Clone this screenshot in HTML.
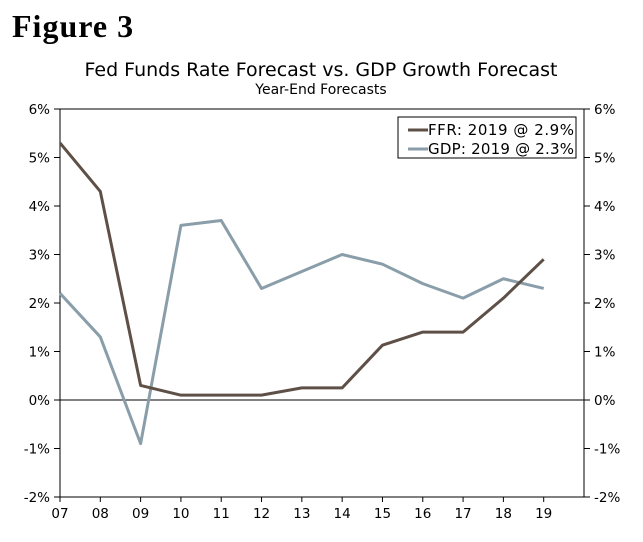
<!DOCTYPE html>
<html><head><meta charset="utf-8"><style>
body{margin:0;background:#fff;width:643px;height:537px;overflow:hidden}
svg text{font-family:"DejaVu Sans","Liberation Sans",sans-serif}
</style></head><body>
<svg id="c" width="643" height="537">
<text x="12" y="37" font-weight="bold" font-size="32" letter-spacing="1" style="font-family:'Liberation Serif',serif">Figure 3</text>
<text x="321" y="76" text-anchor="middle" font-size="19">Fed Funds Rate Forecast vs. GDP Growth Forecast</text>
<text x="321" y="94" text-anchor="middle" font-size="14">Year-End Forecasts</text>
<g id="g"></g>
</svg>
<script>
const categories=["07","08","09","10","11","12","13","14","15","16","17","18","19"];
const ffr=[5.3,4.3,0.3,0.1,0.1,0.1,0.25,0.25,1.13,1.4,1.4,2.1,2.9];
const gdp=[2.2,1.3,-0.9,3.6,3.7,2.3,2.65,3.0,2.8,2.4,2.1,2.5,2.3];
const yTicks=[-2,-1,0,1,2,3,4,5,6];
const L=60,R=584,T=109,B=497;
const x=i=>L+i*(R-L)/13;
const y=v=>B-(v+2)*(B-T)/8;
const g=document.getElementById('g');
const NS="http://www.w3.org/2000/svg";
function mk(t,a){const e=document.createElementNS(NS,t);for(const k in a)e.setAttribute(k,a[k]);g.appendChild(e);return e;}
let e;
e=mk('rect',{x:L,y:T,width:R-L,height:B-T,fill:'none',stroke:'#000','stroke-width':1});


e=mk('line',{x1:L,x2:R,y1:y(0),y2:y(0),stroke:'#000'});


yTicks.forEach(v=>{
 mk('line',{x1:L-6,x2:L,y1:y(v),y2:y(v),stroke:'#000'});
 mk('line',{x1:R,x2:R+6,y1:y(v),y2:y(v),stroke:'#000'});
 e=mk('text',{x:L-10,y:y(v)+5,'text-anchor':'end','font-size':13.5});e.textContent=v+'%';
 
 
 e=mk('text',{x:R+10,y:y(v)+5,'font-size':13.5});e.textContent=v+'%';
 
 
});
categories.forEach((c,i)=>{
 mk('line',{x1:x(i),x2:x(i),y1:B,y2:B+5,stroke:'#000'});
 e=mk('text',{x:x(i),y:B+21,'text-anchor':'middle','font-size':13.5});e.textContent=c;
 
 
});
function line(d,col,n){
 e=mk('polyline',{points:d.map((v,i)=>x(i)+','+y(v)).join(' '),fill:'none',stroke:col,'stroke-width':3,'stroke-linejoin':'round'});
 
 
}
line(gdp,'#8a9ea9','gdp-line');
line(ffr,'#5e5047','ffr-line');
e=mk('rect',{x:398,y:117,width:178,height:41,fill:'#fff',stroke:'#000'});


[['#5e5047','FFR: 2019 @ 2.9%',130],['#8a9ea9','GDP: 2019 @ 2.3%',149]].forEach(([c,t,yy])=>{
 mk('line',{x1:408,x2:428,y1:yy,y2:yy,stroke:c,'stroke-width':3});
 e=mk('text',{x:428,y:yy+5,'font-size':15,textLength:146});e.textContent=t;
 
 
});
</script>
</body></html>
